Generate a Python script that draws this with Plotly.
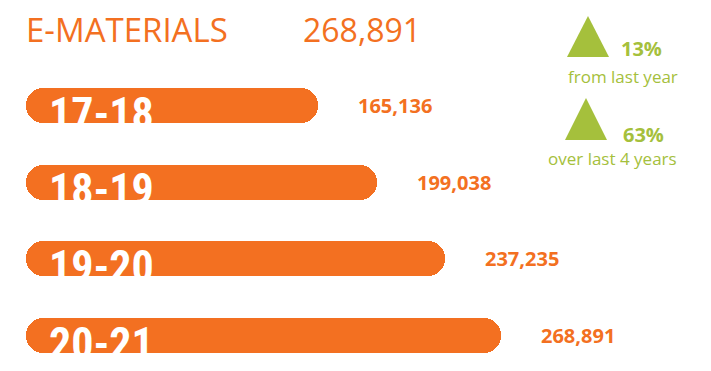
import plotly.graph_objects as go

# ---- data ----
years = ["17-18", "18-19", "19-20", "20-21"]
values = [165136, 199038, 237235, 268891]
title_text = "E-MATERIALS"
growth_captions = ["from last year", "over last 4 years"]

ORANGE = "#F37021"
GREEN = "#A5C03C"

total = values[-1]
yoy = round((values[-1] - values[-2]) / values[-2] * 100)
four_year = round((values[-1] - values[0]) / values[0] * 100)

W, H = 711, 371
PX_PER_UNIT = 0.0017658
X0_PX = 26
x_range = [-X0_PX / PX_PER_UNIT, (W - X0_PX) / PX_PER_UNIT]

# y: category 0 centred at px 105.5, category 3 at px 335.5
step = (335.5 - 105.5) / 3
y_top = -105.5 / step
y_bottom = y_top + H / step
bar_w = 35 / step

fig = go.Figure()
fig.add_trace(go.Bar(
    y=years, x=values, base=[0] * len(values), orientation="h",
    width=bar_w, marker=dict(color=ORANGE, cornerradius=18, line_width=0),
    hovertemplate="%{y}: %{x:,}<extra></extra>", showlegend=False))

ann = []
for yr, v in zip(years, values):
    ann.append(dict(x=0, y=yr, xref="x", yref="y", xanchor="left", yanchor="middle",
                    xshift=21, yshift=-8, showarrow=False, text=yr,
                    font=dict(family="Liberation Sans Narrow, Roboto Condensed, Roboto",
                              size=44, color="white", weight="bold")))
    ann.append(dict(x=v, y=yr, xref="x", yref="y", xanchor="left", yanchor="middle",
                    xshift=38, yshift=0, showarrow=False, text=f"{v:,}",
                    font=dict(family="Open Sans", size=20, color=ORANGE, weight="bold")))


def px(xp, yp):
    return xp / W, 1 - yp / H


def add_text(xp, yp, text, size, color, weight="normal", xanchor="left"):
    x, y = px(xp, yp)
    ann.append(dict(x=x, y=y, xref="paper", yref="paper", xanchor=xanchor, yanchor="middle",
                    showarrow=False, text=text,
                    font=dict(family="Open Sans", size=size, color=color, weight=weight)))


add_text(24, 30, title_text, 33, ORANGE)
add_text(301, 30, f"{total:,}", 32, ORANGE)
add_text(619, 49, f"{yoy}%", 20, GREEN, "bold")
add_text(623, 76, growth_captions[0], 17, GREEN, xanchor="center")
add_text(621, 134, f"{four_year}%", 20, GREEN, "bold")
add_text(612, 158, growth_captions[1], 17, GREEN, xanchor="center")

shapes = []
for (l, r, t, b) in [(567, 609, 16, 57), (565, 607, 98, 140)]:
    x1, y1 = px(l, b)
    x2, y2 = px(r, b)
    x3, y3 = px((l + r) / 2, t)
    shapes.append(dict(type="path", xref="paper", yref="paper",
                       path=f"M{x1},{y1} L{x2},{y2} L{x3},{y3} Z",
                       fillcolor=GREEN, line=dict(width=0)))

fig.update_layout(
    width=W, height=H, margin=dict(l=0, r=0, t=0, b=0),
    paper_bgcolor="white", plot_bgcolor="white",
    bargap=0,
    xaxis=dict(range=x_range, visible=False, fixedrange=True),
    yaxis=dict(type="category", categoryorder="array", categoryarray=years,
               range=[y_bottom, y_top], visible=False, fixedrange=True),
    annotations=ann, shapes=shapes, showlegend=False,
)

fig.write_html("out.html", config={"displayModeBar": False},
               post_script="document.body.style.margin='0';document.body.style.overflow='hidden';")
